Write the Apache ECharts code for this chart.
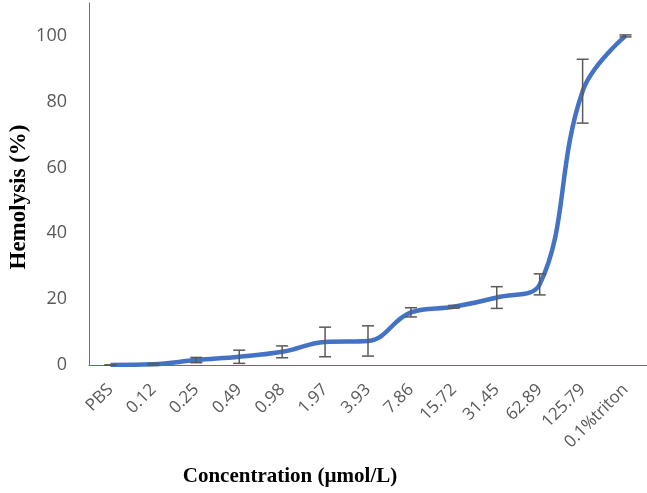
<!DOCTYPE html>
<html><head><meta charset="utf-8">
<script src="https://cdn.jsdelivr.net/npm/echarts@6/dist/echarts.min.js"></script>
<style>html,body{margin:0;padding:0;background:#fff}#c{width:647px;height:493px}</style>
</head><body><div id="c"></div>
<script>
const categories = ['PBS','0.12','0.25','0.49','0.98','1.97','3.93','7.86','15.72','31.45','62.89','125.79','0.1%triton'];
const hemolysis = [0, 0.2, 1.5, 2.5, 4, 7, 7.3, 16, 17.7, 20.5, 24.5, 83.2, 100];
const errors = [0, 0.3, 0.8, 2, 1.8, 4.5, 4.6, 1.4, 0.4, 3.3, 3.2, 9.7, 0.3];
const yTicks = [0, 20, 40, 60, 80, 100];

const chart = echarts.init(document.getElementById('c'));
const errData = categories.map((c, i) => [i, hemolysis[i] - errors[i], hemolysis[i] + errors[i]]);
chart.setOption({
  animation: false,
  grid: {left: 89, right: 0, top: 3, bottom: 128},
  xAxis: {
    type: 'category', data: categories, boundaryGap: true,
    axisLine: {lineStyle: {color: '#4472C4', width: 1}},
    axisTick: {show: false},
    axisLabel: {rotate: 45, color: '#595959', fontSize: 17, fontFamily: 'Open Sans', margin: 22, interval: 0}
  },
  yAxis: {
    type: 'value', min: 0, max: 110, interval: 20,
    axisLine: {show: true, lineStyle: {color: '#4472C4', width: 1}},
    axisTick: {show: false},
    splitLine: {show: false},
    axisLabel: {color: '#595959', fontSize: 18, fontFamily: 'Open Sans', margin: 22,
      formatter: v => yTicks.indexOf(v) >= 0 ? String(v) : ''}
  },
  series: [
    {type: 'line', data: hemolysis, smooth: 0.4, symbol: 'none',
     lineStyle: {color: '#4472C4', width: 4.5}, z: 2},
    {type: 'custom', data: errData, z: 3,
     renderItem: function (params, api) {
       const x = api.coord([api.value(0), 0])[0];
       const lo = api.coord([api.value(0), api.value(1)])[1];
       const hi = api.coord([api.value(0), api.value(2)])[1];
       const w = 6;
       const st = {stroke: '#595959', lineWidth: 1.5};
       return {type: 'group', children: [
         {type: 'line', shape: {x1: x, y1: lo, x2: x, y2: hi}, style: st},
         {type: 'line', shape: {x1: x - w, y1: lo, x2: x + w, y2: lo}, style: st},
         {type: 'line', shape: {x1: x - w, y1: hi, x2: x + w, y2: hi}, style: st}
       ]};
     }}
  ],
  graphic: [
    {type: 'text', rotation: Math.PI / 2, position: [19, 197],
     style: {text: 'Hemolysis (%)', font: 'bold 23px "Liberation Serif"', fill: '#000',
       textAlign: 'center', textVerticalAlign: 'middle'}},
    {type: 'text', position: [290, 477],
     style: {text: 'Concentration (µmol/L)', font: 'bold 21px "Liberation Serif"', fill: '#000',
       textAlign: 'center', textVerticalAlign: 'middle'}}
  ]
});
</script></body></html>
